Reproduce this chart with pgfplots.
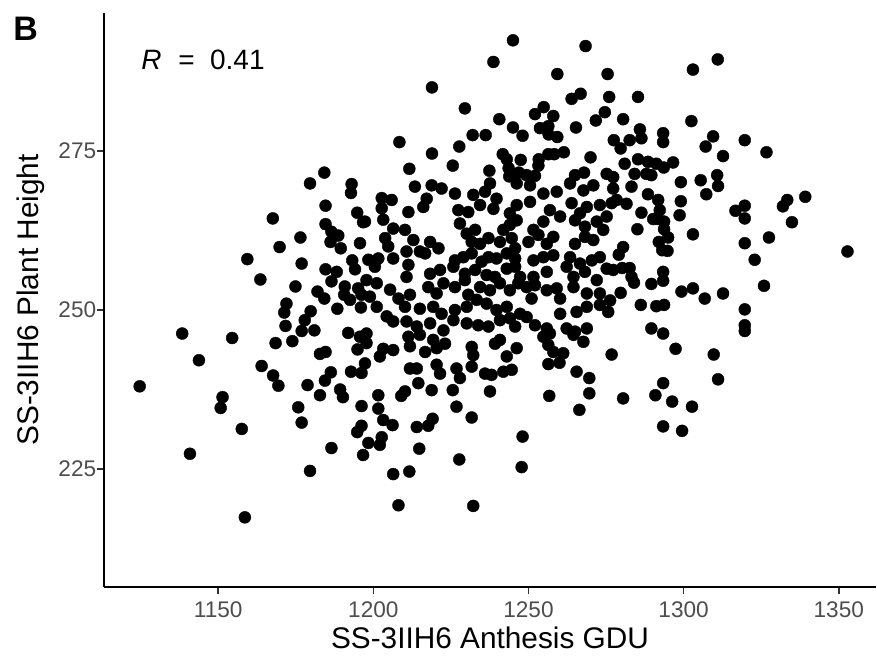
\documentclass[border=0pt]{standalone}
\usepackage{pgfplots}
\pgfplotsset{compat=1.18}
\usepackage{fontspec}
\setmainfont{Liberation Sans}
\definecolor{tickgray}{HTML}{4D4D4D}
\definecolor{axgray}{HTML}{333333}

\begin{document}
\begin{tikzpicture}
\useasboundingbox (-52pt,-35pt) rectangle (386.5pt,293.5pt);
\begin{axis}[
  at={(0,0)}, anchor=south west,
  scale only axis, width=386pt, height=287pt,
  xmin=1113.2, xmax=1362.0, ymin=206.45, ymax=296.7,
  axis x line*=bottom, axis y line*=left,
  axis line style={line width=1pt, -},
  xtick={1150,1200,1250,1300,1350}, ytick={225,250,275},
  tick align=outside, major tick length=3.7pt,
  tick style={axgray, line width=0.8pt},
  ticklabel style={font=\fontsize{11.3}{13}\selectfont, text=tickgray, inner sep=0pt},
  xticklabel shift=3.5pt,
  yticklabel style={anchor=east},
  /pgf/number format/assume math mode=true,
  /pgf/number format/set thousands separator={},
  xlabel={SS-3IIH6 Anthesis GDU},
  ylabel={SS-3IIH6 Plant Height},
  label style={font=\fontsize{14.9}{17}\selectfont},
  xlabel style={at={(axis description cs:0.5,-0.0889)}, anchor=center},
  ylabel style={at={(axis description cs:-0.0946,0.5)}, anchor=center},
  clip=false,
]
\addplot[only marks, mark=*, mark size=3pt, mark options={fill=black, draw=black, line width=0.2pt}] coordinates {
% left upper
(1179.6,269.9) (1184.2,271.6) (1193.0,269.8)
(1192.8,268.4) (1184.6,266.4) (1167.6,264.4) (1194.8,265.3) (1196.7,263.8) (1184.6,263.5) (1186.5,262.3) (1188.7,261.7)
(1186.2,260.7) (1189.5,259.7) (1176.5,261.4) (1169.8,259.9) (1159.4,258.0) (1176.9,257.3) (1195.7,260.5) (1193.2,257.8)
(1194.1,256.4) (1184.6,256.4) (1188.2,256.0) (1186.5,254.5) (1163.6,254.8) (1174.9,253.7) (1190.8,253.7) (1195.1,253.4)
(1182.0,252.9) (1184.2,251.8) (1190.6,252.4) (1192.5,251.6) (1196.2,252.4) (1188.4,250.2) (1196.0,250.4) (1172.0,251.0)
(1171.3,249.6) (1179.8,249.8) (1177.9,248.4) (1171.7,247.5) (1176.9,246.7) (1181.0,246.8) (1191.9,246.4) (1195.7,245.8)
(1168.5,244.8) (1173.9,245.1) (1138.4,246.3) (1154.5,245.6) (1182.8,243.1) (1184.6,243.4) (1194.9,243.8) (1143.8,242.1)
% left lower
(1164.0,241.2) (1167.7,239.7) (1169.4,238.1) (1178.8,238.2) (1182.8,236.6) (1184.4,238.9) (1186.3,240.2) (1189.3,237.5)
(1190.2,236.3) (1192.8,240.3) (1196.2,240.1) (1175.8,234.7) (1176.9,232.3) (1194.8,230.8) (1196.2,231.8) (1196.7,227.2)
(1186.5,228.3) (1179.6,224.7) (1158.6,217.4) (1140.9,227.4) (1157.6,231.3) (1151.4,236.3) (1150.8,234.6) (1124.7,238.0)
(1196.2,234.9)
% middle upper
(1245.0,292.4) (1238.7,289.0) (1218.9,285.0) (1268.4,291.5) (1259.3,287.1) (1275.5,287.1) (1263.9,283.2) (1266.8,284.0)
(1276.0,283.5) (1229.5,281.7) (1252.1,280.8) (1254.9,281.9) (1258.0,280.5) (1240.6,280.0) (1271.7,279.8) (1274.6,281.1)
(1245.0,278.7) (1248.1,277.4) (1253.7,278.6) (1256.4,278.9) (1256.5,277.6) (1259.3,277.2) (1265.3,278.7)
(1232.0,277.5) (1236.2,277.5) (1208.4,276.4) (1227.7,275.7) (1218.9,274.6) (1225.6,272.7) (1211.6,272.2)
(1237.4,271.9) (1241.7,274.5) (1243.0,273.7)
(1247.5,273.6) (1253.3,273.7) (1253.2,272.7) (1256.4,274.5) (1258.3,274.5) (1261.4,274.8) (1270.0,274.0) (1277.5,276.7)
(1243.6,272.3) (1246.9,271.6) (1249.4,271.2) (1252.1,271.1) (1243.8,271.0)
(1265.0,271.2) (1267.9,271.6) (1275.2,271.4) (1277.3,270.9)
% right upper
(1303.0,287.8) (1311.0,289.4) (1285.3,283.5) (1280.5,280.0) (1302.5,279.7) (1285.9,278.4) (1286.4,277.0) (1293.4,277.8)
(1293.4,276.4) (1282.6,276.7) (1279.7,275.4) (1309.5,277.3) (1307.1,275.7) (1312.7,274.2) (1319.7,276.7) (1326.7,274.8)
(1281.0,273.0) (1285.3,273.7) (1288.5,273.3) (1291.2,273.0) (1296.6,273.2) (1293.6,272.4) (1284.2,271.4) (1288.0,271.4)
(1289.6,271.2) (1283.2,269.4) (1299.1,270.1) (1305.5,270.4) (1310.8,271.2) (1311.1,269.5)
% middle left edge
(1202.7,267.6) (1205.9,267.3) (1202.7,266.0) (1203.2,264.2) (1197.3,263.9) (1206.4,262.8) (1203.8,261.3) (1204.8,260.0)
(1206.4,258.1) (1198.4,257.9) (1201.6,258.1) (1200.5,256.8) (1197.8,254.7) (1201.1,254.2) (1205.4,253.2) (1208.1,251.8)
(1198.9,252.1) (1201.1,250.5) (1204.3,249.0) (1206.4,248.2) (1206.4,243.7) (1203.2,243.9) (1202.1,242.7) (1197.8,244.8)
(1197.8,246.3)
% dense centre
(1213.4,269.4) (1218.8,269.6) (1222.0,269.1) (1217.2,267.5) (1226.3,268.3) (1232.2,268.1) (1236.0,268.6) (1237.6,269.9)
(1239.7,267.5) (1238.7,265.9) (1246.2,269.9) (1250.5,269.6) (1254.8,268.3) (1259.1,268.6) (1263.4,269.9) (1267.7,268.8)
(1270.9,269.6) (1277.3,269.1) (1278.4,267.3)
(1211.3,265.4) (1216.1,266.2) (1227.4,265.7) (1230.6,265.4) (1234.4,266.5) (1244.0,265.2) (1246.2,266.5) (1250.5,267.0)
(1256.9,265.7) (1260.2,264.7) (1263.9,266.8) (1266.6,265.2) (1268.8,266.2) (1273.0,266.5) (1276.8,266.8) (1275.2,264.7)
(1210.2,262.6) (1227.9,263.6) (1230.1,262.0) (1232.8,262.6) (1241.9,262.6) (1244.0,263.4) (1246.2,264.1) (1251.6,262.6)
(1254.8,263.9) (1265.0,264.1) (1268.2,263.1) (1272.0,263.9) (1274.1,262.6)
(1212.9,261.0) (1218.3,260.7) (1221.0,259.7) (1215.0,259.2) (1210.7,259.2) (1231.7,260.7) (1234.4,260.4) (1237.1,261.3)
(1240.8,260.7) (1244.6,261.3) (1245.7,259.7) (1250.0,260.7) (1253.2,261.8) (1255.9,260.4) (1258.0,261.5) (1265.0,260.4)
(1268.2,261.5) (1270.9,261.0)
(1211.3,257.1) (1216.7,258.9) (1226.3,257.8) (1229.0,258.3) (1231.7,258.9) (1234.9,257.6) (1237.1,258.3) (1239.7,258.1)
(1243.0,258.9) (1245.7,258.1) (1251.6,257.8) (1254.8,258.3) (1258.0,258.6) (1263.4,258.3) (1266.6,257.3) (1270.4,257.8)
(1275.2,256.5) (1273.0,258.3)
(1210.7,255.2) (1218.3,255.7) (1221.5,256.3) (1225.8,256.8) (1229.5,255.7) (1232.8,256.3) (1236.5,255.5) (1239.2,255.2)
(1243.0,256.5) (1245.7,256.8) (1247.3,255.2) (1251.6,255.2) (1255.9,256.0) (1262.3,256.8) (1264.5,255.2) (1268.2,256.0)
(1272.0,254.7) (1277.3,256.3)
(1211.8,252.4) (1217.7,253.6) (1220.4,252.6) (1222.6,254.2) (1226.3,253.6) (1229.5,254.7) (1230.6,252.4) (1234.4,253.6)
(1237.6,253.1) (1240.8,254.2) (1244.0,253.1) (1246.7,254.2) (1249.4,253.6) (1252.1,253.9) (1255.9,253.1) (1259.1,253.4)
(1260.2,251.8) (1264.5,253.6) (1268.8,252.6) (1273.0,252.6) (1276.3,251.5)
(1210.2,250.5) (1215.0,250.2) (1219.3,250.5) (1222.0,249.4) (1226.3,250.0) (1230.1,250.5) (1233.3,251.6) (1236.5,251.0)
(1239.7,250.0) (1243.0,250.5) (1247.3,249.4) (1251.0,251.8) (1260.2,249.4) (1265.5,249.7) (1268.8,250.5) (1273.0,250.8)
(1275.7,249.7)
(1210.7,248.2) (1214.0,247.4) (1218.3,247.9) (1222.6,246.8) (1225.8,248.4) (1230.1,247.9) (1233.8,247.6) (1237.1,247.4)
(1240.8,248.4) (1244.0,248.7) (1245.7,247.4) (1249.4,248.9) (1252.1,247.6) (1255.9,247.1) (1262.3,247.1) (1265.0,246.6)
(1268.8,247.1) (1256.9,246.3)
(1211.3,245.8) (1215.0,246.1) (1219.3,245.3) (1223.1,244.7) (1211.8,244.3) (1216.7,243.4) (1220.4,244.0) (1231.7,244.2)
(1232.2,242.9) (1239.2,244.7) (1240.8,245.3) (1243.0,242.7) (1246.2,244.0) (1254.8,245.8) (1256.4,244.5) (1258.0,243.4)
(1261.2,243.2) (1264.5,246.1) (1267.7,245.0) (1276.8,243.0)
% right middle
(1288.5,268.2) (1307.3,268.2) (1281.6,266.7) (1291.8,267.3) (1292.3,265.7) (1291.8,264.3) (1293.7,263.9)
(1293.7,262.7) (1295.0,261.4) (1292.0,260.7) (1293.1,259.4) (1294.8,259.3) (1290.2,264.3) (1299.1,267.1) (1298.7,264.9)
(1286.4,265.3) (1285.1,262.7) (1303.0,261.9) (1280.5,259.9) (1279.1,258.7) (1280.2,256.6) (1282.6,256.6) (1283.2,255.2)
(1284.0,254.3) (1289.6,254.1) (1293.4,256.0) (1293.4,254.6) (1279.7,252.7) (1299.3,252.9) (1303.0,253.4) (1306.8,251.8)
(1312.7,252.6) (1286.2,250.8) (1291.2,250.6) (1293.7,250.8) (1289.6,247.1) (1293.4,246.3) (1297.4,243.9) (1309.7,243.0)
(1316.7,265.6) (1319.7,266.4) (1319.7,264.4) (1332.0,266.3) (1333.4,267.3) (1339.2,267.8) (1334.9,263.8) (1319.7,260.5)
(1327.5,261.4) (1322.9,257.9) (1352.8,259.2) (1325.9,253.8) (1319.7,250.1) (1319.7,247.6) (1319.7,246.7)
% middle lower
(1197.3,241.6) (1211.8,240.8) (1214.0,240.8) (1220.4,241.4) (1221.5,240.0) (1226.8,240.8) (1227.9,239.3) (1231.7,241.1)
(1236.0,240.0) (1238.1,239.8) (1237.6,237.2) (1241.9,240.3) (1244.6,240.6) (1214.5,238.5) (1209.0,236.5) (1210.2,237.2)
(1218.8,237.4) (1225.6,237.4) (1201.6,236.6) (1201.6,234.5) (1203.2,232.7) (1206.2,231.9) (1226.8,234.8) (1231.7,233.1)
(1214.0,231.6) (1217.7,231.8) (1219.1,232.9) (1202.7,230.0) (1198.4,229.1) (1202.1,228.8) (1214.8,228.2) (1227.7,226.5)
(1206.4,224.2) (1211.6,224.6) (1208.1,219.3) (1232.2,219.2) (1248.1,230.1) (1247.8,225.3) (1256.4,241.5) (1260.0,241.7)
(1265.5,240.3) (1269.6,239.3) (1269.6,236.9) (1256.7,236.5) (1266.4,234.3)
% right lower
(1280.5,236.1) (1293.4,238.5) (1290.9,236.6) (1296.3,235.6) (1302.7,234.8) (1293.4,231.7) (1299.5,231.0) (1311.1,239.1)
};
\node[anchor=west, inner sep=0pt, font=\fontsize{14}{17}\selectfont] at (axis cs:1125.1,289.3) {\textit{R}\hspace{0.6em}=\hspace{0.55em}0.41};
\end{axis}
\node[anchor=west, inner sep=0pt, font=\fontsize{17}{20}\bfseries] at (-45.5pt,279pt) {B};
\end{tikzpicture}
\end{document}
